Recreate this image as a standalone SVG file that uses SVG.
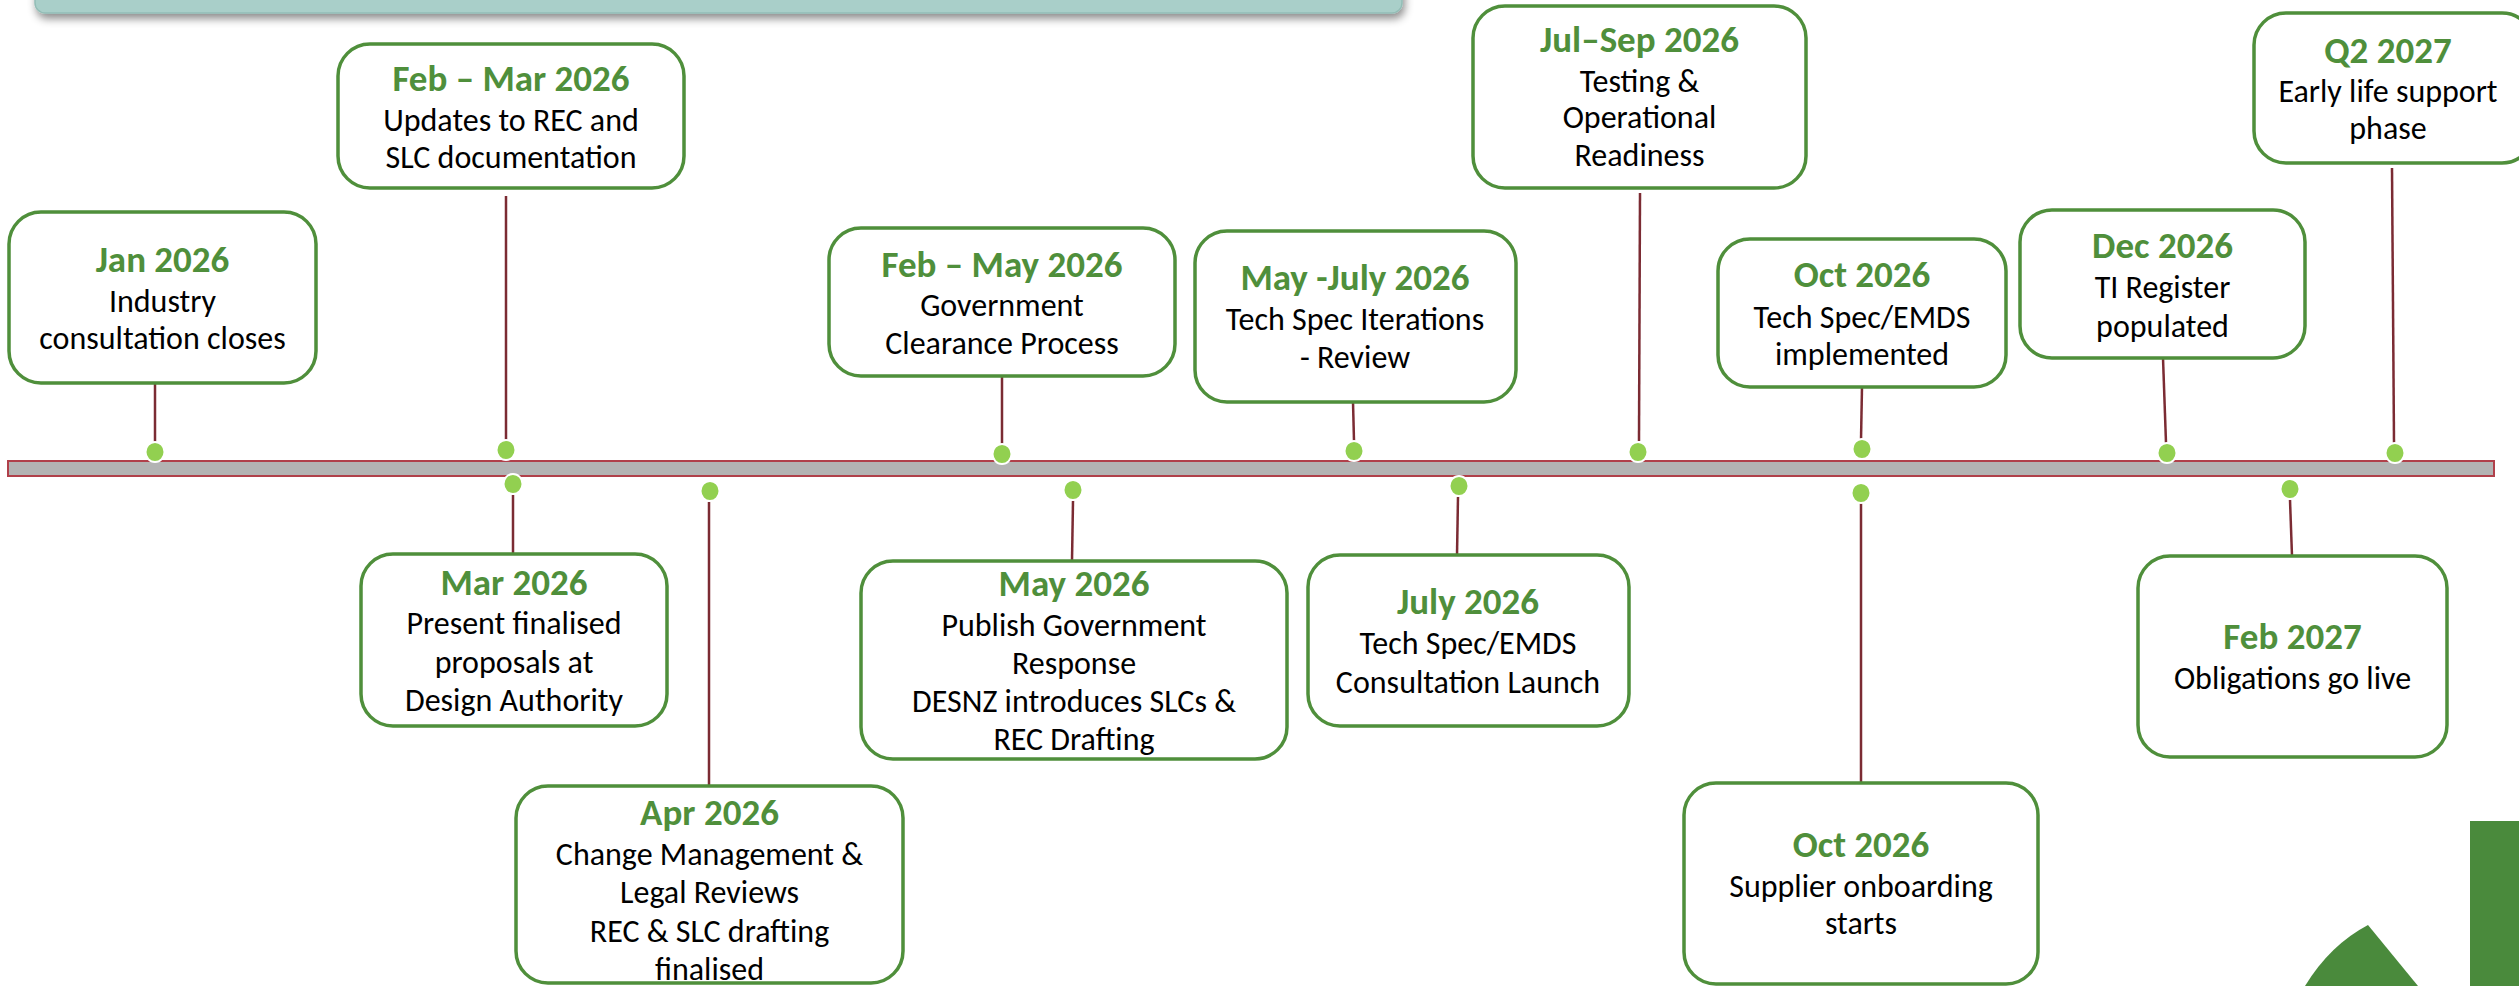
<svg xmlns="http://www.w3.org/2000/svg" width="2519" height="986" viewBox="0 0 2519 986">
<defs>
<filter id="sh" x="-5%" y="-50%" width="110%" height="250%">
<feDropShadow dx="2" dy="5" stdDeviation="4" flood-color="#000" flood-opacity="0.45"/>
</filter>
<style>
.box{fill:#fff;stroke:#4f8f3b;stroke-width:3.5}
.t{font-family:Carlito,Lato,"Open Sans",sans-serif;font-size:37px;font-weight:bold;fill:#4f8f3b;text-anchor:middle}
.b{font-family:Carlito,Lato,"Open Sans",sans-serif;font-size:32px;fill:#000;text-anchor:middle}
.c{stroke:#7b2b33;stroke-width:2.5;fill:none}
.d{fill:#92d050;stroke:#fff;stroke-width:2}
</style>
</defs>
<rect width="2519" height="986" fill="#fff"/>
<rect x="35" y="-30" width="1367" height="43" rx="10" fill="#a9cfc9" stroke="#93bdb6" stroke-width="1.5" filter="url(#sh)"/>
<rect x="8" y="461" width="2486" height="15" fill="#b3b3b3" stroke="#b0404a" stroke-width="2"/>
<g id="connectors">
<line class="c" x1="155" y1="383" x2="155" y2="443"/>
<line class="c" x1="506" y1="196" x2="506" y2="441"/>
<line class="c" x1="513" y1="495" x2="513" y2="554"/>
<line class="c" x1="709" y1="502" x2="709" y2="786"/>
<line class="c" x1="1002" y1="376" x2="1002" y2="444"/>
<line class="c" x1="1073" y1="501" x2="1072" y2="561"/>
<line class="c" x1="1353" y1="402" x2="1354" y2="441"/>
<line class="c" x1="1458" y1="497" x2="1457" y2="555"/>
<line class="c" x1="1640" y1="193" x2="1639" y2="441"/>
<line class="c" x1="1862" y1="387" x2="1861" y2="440"/>
<line class="c" x1="1861" y1="503" x2="1861" y2="783"/>
<line class="c" x1="2163" y1="358" x2="2166" y2="443"/>
<line class="c" x1="2392" y1="168" x2="2394" y2="443"/>
<line class="c" x1="2290" y1="500" x2="2292" y2="556"/>
</g>
<g id="dots">
<ellipse class="d" cx="155" cy="452" rx="9.5" ry="10"/>
<ellipse class="d" cx="506" cy="450" rx="9.5" ry="10"/>
<ellipse class="d" cx="513" cy="484" rx="9.5" ry="10"/>
<ellipse class="d" cx="710" cy="491" rx="9.5" ry="10"/>
<ellipse class="d" cx="1002" cy="454" rx="9.5" ry="10"/>
<ellipse class="d" cx="1073" cy="490" rx="9.5" ry="10"/>
<ellipse class="d" cx="1354" cy="451" rx="9.5" ry="10"/>
<ellipse class="d" cx="1459" cy="486" rx="9.5" ry="10"/>
<ellipse class="d" cx="1638" cy="452" rx="9.5" ry="10"/>
<ellipse class="d" cx="1862" cy="449" rx="9.5" ry="10"/>
<ellipse class="d" cx="1861" cy="493" rx="9.5" ry="10"/>
<ellipse class="d" cx="2167" cy="453" rx="9.5" ry="10"/>
<ellipse class="d" cx="2395" cy="453" rx="9.5" ry="10"/>
<ellipse class="d" cx="2290" cy="489" rx="9.5" ry="10"/>
</g>
<g id="n-jan26">
<rect class="box" x="9" y="212" width="307" height="171" rx="32"/>
<text class="t" x="162.5" y="272">Jan 2026</text>
<text class="b" x="162.5" y="312">Industry</text>
<text class="b" x="162.5" y="349">consultation closes</text>
</g>
<g id="n-febmar26">
<rect class="box" x="338" y="44" width="346" height="144" rx="32"/>
<text class="t" x="511" y="91">Feb – Mar 2026</text>
<text class="b" x="511" y="131">Updates to REC and</text>
<text class="b" x="511" y="168">SLC documentation</text>
</g>
<g id="n-mar26">
<rect class="box" x="361" y="554" width="306" height="172" rx="32"/>
<text class="t" x="514" y="595">Mar 2026</text>
<text class="b" x="514" y="634">Present finalised</text>
<text class="b" x="514" y="673">proposals at</text>
<text class="b" x="514" y="711">Design Authority</text>
</g>
<g id="n-apr26">
<rect class="box" x="516" y="786" width="387" height="197" rx="32"/>
<text class="t" x="709.5" y="825">Apr 2026</text>
<text class="b" x="709.5" y="865">Change Management &amp;</text>
<text class="b" x="709.5" y="903">Legal Reviews</text>
<text class="b" x="709.5" y="942">REC &amp; SLC drafting</text>
<text class="b" x="709.5" y="980">finalised</text>
</g>
<g id="n-febmay26">
<rect class="box" x="829" y="228" width="346" height="148" rx="32"/>
<text class="t" x="1002" y="277">Feb – May 2026</text>
<text class="b" x="1002" y="316">Government</text>
<text class="b" x="1002" y="354">Clearance Process</text>
</g>
<g id="n-may26">
<rect class="box" x="861" y="561" width="426" height="198" rx="32"/>
<text class="t" x="1074" y="596">May 2026</text>
<text class="b" x="1074" y="636">Publish Government</text>
<text class="b" x="1074" y="674">Response</text>
<text class="b" x="1074" y="712">DESNZ introduces SLCs &amp;</text>
<text class="b" x="1074" y="750">REC Drafting</text>
</g>
<g id="n-mayjul26">
<rect class="box" x="1195" y="231" width="321" height="171" rx="32"/>
<text class="t" x="1355" y="290">May -July 2026</text>
<text class="b" x="1355" y="330">Tech Spec Iterations</text>
<text class="b" x="1355" y="368">- Review</text>
</g>
<g id="n-jul26">
<rect class="box" x="1308" y="555" width="321" height="171" rx="32"/>
<text class="t" x="1468" y="614">July 2026</text>
<text class="b" x="1468" y="654">Tech Spec/EMDS</text>
<text class="b" x="1468" y="693">Consultation Launch</text>
</g>
<g id="n-julsep26">
<rect class="box" x="1473" y="6" width="333" height="182" rx="32"/>
<text class="t" x="1639.5" y="52">Jul–Sep 2026</text>
<text class="b" x="1639.5" y="92">Testing &amp;</text>
<text class="b" x="1639.5" y="128">Operational</text>
<text class="b" x="1639.5" y="166">Readiness</text>
</g>
<g id="n-oct26a">
<rect class="box" x="1718" y="239" width="288" height="148" rx="32"/>
<text class="t" x="1862" y="287">Oct 2026</text>
<text class="b" x="1862" y="328">Tech Spec/EMDS</text>
<text class="b" x="1862" y="365">implemented</text>
</g>
<g id="n-oct26b">
<rect class="box" x="1684" y="783" width="354" height="201" rx="32"/>
<text class="t" x="1861" y="857">Oct 2026</text>
<text class="b" x="1861" y="897">Supplier onboarding</text>
<text class="b" x="1861" y="934">starts</text>
</g>
<g id="n-dec26">
<rect class="box" x="2020" y="210" width="285" height="148" rx="32"/>
<text class="t" x="2162.5" y="258">Dec 2026</text>
<text class="b" x="2162.5" y="298">TI Register</text>
<text class="b" x="2162.5" y="337">populated</text>
</g>
<g id="n-q227">
<rect class="box" x="2254" y="13" width="280" height="150" rx="32"/>
<text class="t" x="2388" y="63">Q2 2027</text>
<text class="b" x="2388" y="102">Early life support</text>
<text class="b" x="2388" y="139">phase</text>
</g>
<g id="n-feb27">
<rect class="box" x="2138" y="556" width="309" height="201" rx="32"/>
<text class="t" x="2292.5" y="649">Feb 2027</text>
<text class="b" x="2292.5" y="689">Obligations go live</text>
</g>
<rect x="2470" y="821" width="49" height="165" fill="#4a8a3c"/>
<path d="M2305,986 Q2330,945 2368,925 L2418,986 Z" fill="#4a8a3c"/>
</svg>
